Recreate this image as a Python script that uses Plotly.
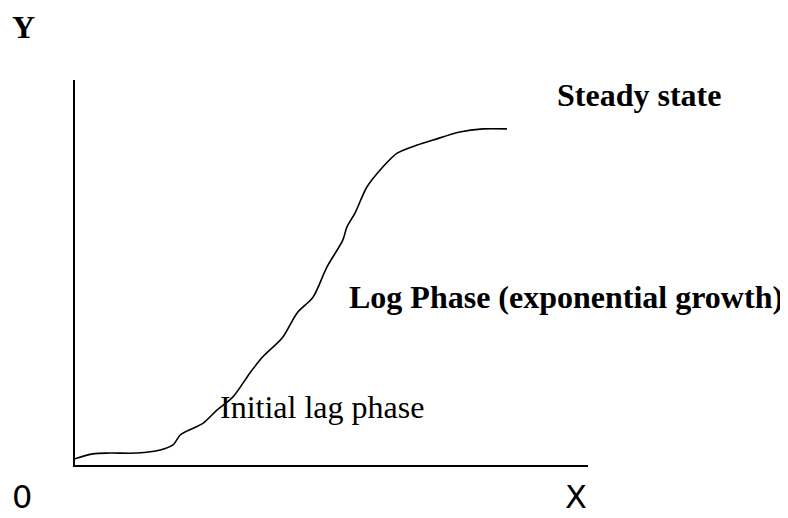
import plotly.graph_objects as go

# Growth curve (x: 0-100 along axis, y: 0-100 along axis)
curve_x = [0, 3.5, 6.8, 12.1, 16.6, 19.1, 20.5, 21.8, 25.0, 27.7, 30.8, 34.1, 36.6,
           40.5, 43.3, 46.4, 49.1, 52.2, 53.0, 54.6, 56.9, 60.0, 62.8, 66.7, 69.8,
           75.0, 79.5, 84.2]
curve_y = [1.6, 2.9, 3.1, 3.1, 3.9, 5.2, 7.8, 8.8, 10.9, 14.3, 17.7, 23.9, 28.1,
           33.2, 39.5, 43.6, 51.4, 58.4, 61.8, 65.5, 72.2, 77.4, 81.0, 83.1, 84.4,
           86.5, 87.3, 87.3]

# Phase labels (left edge / vertical centre, in axis units)
label_texts = ["Steady state", "Log Phase (exponential growth)", "Initial lag phase"]
label_x = [93.6, 53.0, 27.9]
label_y = [96.1, 43.6, 15.1]
label_bold = [True, True, False]

# Axis labels (paper units relative to the plot area)
axis_texts = ["Y", "0", "X"]
axis_px = [-0.101, -0.103, 0.977]
axis_py = [1.138, -0.083, -0.083]

fig = go.Figure()
fig.add_trace(go.Scatter(x=curve_x, y=curve_y, mode="lines",
                         line=dict(color="black", width=1.6, shape="spline", smoothing=0.8),
                         hoverinfo="skip", showlegend=False))

for t, x, y, b in zip(label_texts, label_x, label_y, label_bold):
    fig.add_annotation(x=x, y=y, xref="x", yref="y", text=f"<b>{t}</b>" if b else t,
                       showarrow=False, xanchor="left", yanchor="middle",
                       font=dict(family="Liberation Serif", size=32, color="black"))

for t, x, y in zip(axis_texts, axis_px, axis_py):
    if t == "Y":
        txt, fam = "<b>Y</b>", "Liberation Serif"
    else:
        txt, fam = t, "DejaVu Sans"
    fig.add_annotation(x=x, y=y, xref="paper", yref="paper", text=txt, showarrow=False,
                       xanchor="center", yanchor="middle", borderpad=0,
                       font=dict(family=fam, size=32, color="black"))

fig.update_xaxes(range=[0, 100], showgrid=False, zeroline=False, showticklabels=False,
                 ticks="", showline=True, linecolor="black", linewidth=1.5)
fig.update_yaxes(range=[0, 100], showgrid=False, zeroline=False, showticklabels=False,
                 ticks="", showline=True, linecolor="black", linewidth=1.5)
fig.update_layout(width=788, height=518, margin=dict(l=67, r=208, t=72, b=61),
                  plot_bgcolor="white", paper_bgcolor="white", showlegend=False)

fig.write_html("out.html")
